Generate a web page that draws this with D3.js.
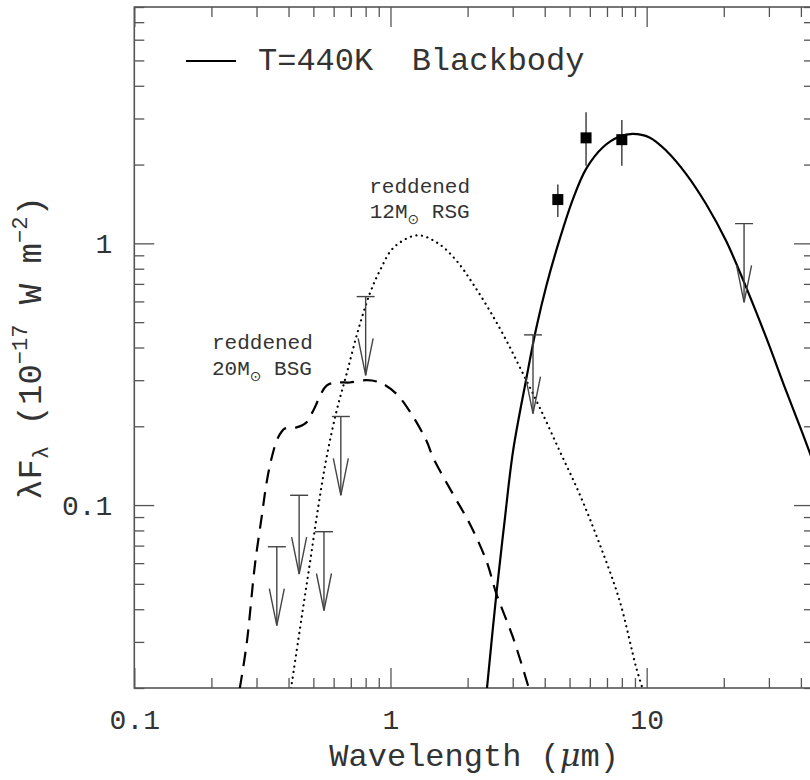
<!DOCTYPE html>
<html>
<head>
<meta charset="utf-8">
<script src="https://cdn.jsdelivr.net/npm/d3@7"></script>
<style>
  body { margin: 0; background: #fff; }
  text { font-family: "Liberation Mono", "DejaVu Sans Mono", monospace; fill: #333; }
</style>
</head>
<body>
<div id="chart"></div>
<script>
// wavelength (micron) / lambda F_lambda (1e-17 W m^-2)
const blackbody = [
  [2.38, 0.0199], [2.59, 0.0457], [2.79, 0.0871], [3.01, 0.161], [3.39, 0.304],
  [3.71, 0.476], [4.06, 0.689], [4.58, 1.04], [5.16, 1.48], [5.81, 1.93],
  [6.75, 2.33], [7.84, 2.56], [8.84, 2.62], [10.26, 2.54], [11.93, 2.26],
  [14.27, 1.84], [17.08, 1.41], [20.44, 1.02], [24.46, 0.679], [29.27, 0.437],
  [35.03, 0.273], [40.67, 0.187], [44.8, 0.145]
];
const bsg20 = [
  [0.258, 0.0199], [0.2745, 0.0295], [0.296, 0.0596], [0.314, 0.0897], [0.328, 0.121],
  [0.344, 0.152], [0.364, 0.181], [0.387, 0.196], [0.43, 0.198], [0.47, 0.207],
  [0.499, 0.229], [0.563, 0.286], [0.616, 0.294], [0.694, 0.294], [0.806, 0.300],
  [0.909, 0.294], [1.055, 0.266], [1.207, 0.223], [1.382, 0.176], [1.466, 0.152],
  [1.755, 0.110], [2.039, 0.0848], [2.368, 0.0612], [2.591, 0.0458], [3.008, 0.0312],
  [3.472, 0.0199]
];
const rsg12 = [
  [0.409, 0.0199], [0.45, 0.0372], [0.484, 0.0595], [0.522, 0.0979], [0.563, 0.152],
  [0.616, 0.229], [0.674, 0.317], [0.747, 0.464], [0.83, 0.642], [0.909, 0.786],
  [1.03, 0.965], [1.272, 1.073], [1.53, 1.002], [1.809, 0.859], [2.10, 0.700],
  [2.44, 0.553], [2.835, 0.425], [3.289, 0.318], [3.822, 0.236], [4.575, 0.161],
  [5.474, 0.110], [6.551, 0.071], [7.842, 0.0431], [9.108, 0.0239], [9.64, 0.0199]
];

// detections with error bars
const detLambda = [4.5, 5.8, 8.0];
const detFlux = [1.47, 2.53, 2.49];
const detLow = [1.26, 1.98, 1.98];
const detHigh = [1.68, 3.17, 2.96];

// upper limits (arrow drawn down to half the limit)
const limLambda = [0.36, 0.44, 0.55, 0.64, 0.80, 3.6, 24];
const limFlux = [0.0693, 0.109, 0.0791, 0.218, 0.626, 0.447, 1.19];

const xMajor = [0.1, 1, 10];
const xMinor = [0.2, 0.3, 0.4, 0.5, 0.6, 0.7, 0.8, 0.9, 2, 3, 4, 5, 6, 7, 8, 9, 20, 30, 40];
const yMajor = [0.1, 1];
const yMinor = [0.02, 0.03, 0.04, 0.05, 0.06, 0.07, 0.08, 0.09,
                0.2, 0.3, 0.4, 0.5, 0.6, 0.7, 0.8, 0.9, 2, 3, 4, 5, 6, 7, 8];

const W = 810, H = 780;
const margin = {left: 134.3, right: 814, top: 7, bottom: 688};

const x = d3.scaleLog().domain([0.1, 45]).range([margin.left, margin.right]);
const y = d3.scaleLog().domain([0.02, 8]).range([margin.bottom, margin.top]);

const svg = d3.select("#chart").append("svg")
  .attr("width", W)
  .attr("height", H);

svg.append("clipPath").attr("id", "plotclip")
  .append("rect")
  .attr("x", margin.left).attr("y", margin.top)
  .attr("width", margin.right - margin.left).attr("height", margin.bottom - margin.top);

const axisColor = "#555";
const fmt = d => d === 0.1 ? "0.1" : String(d);

// ticks on all four sides, pointing in
function drawAxis(axis, transform, labels) {
  const g = svg.append("g").attr("transform", transform).call(axis);
  g.select(".domain").remove();
  g.selectAll(".tick line").attr("stroke", axisColor).attr("stroke-width", 1.3);
  if (!labels) g.selectAll(".tick text").remove();
  return g;
}

let gx = drawAxis(d3.axisBottom(x).tickValues(xMajor).tickSize(-20).tickPadding(21).tickFormat(fmt),
  `translate(0,${margin.bottom})`, true);
gx.attr("font-size", 28).attr("font-family", null);
gx.selectAll(".tick text").attr("fill", "#333");
drawAxis(d3.axisBottom(x).tickValues(xMinor).tickSize(-10), `translate(0,${margin.bottom})`, false);
drawAxis(d3.axisTop(x).tickValues(xMajor).tickSize(-20), `translate(0,${margin.top})`, false);
drawAxis(d3.axisTop(x).tickValues(xMinor).tickSize(-10), `translate(0,${margin.top})`, false);

let gy = drawAxis(d3.axisLeft(y).tickValues(yMajor).tickSize(-20).tickPadding(22).tickFormat(fmt),
  `translate(${margin.left},0)`, true);
gy.attr("font-size", 28).attr("font-family", null);
gy.selectAll(".tick text").attr("fill", "#333");
drawAxis(d3.axisLeft(y).tickValues(yMinor).tickSize(-10), `translate(${margin.left},0)`, false);
drawAxis(d3.axisRight(y).tickValues(yMajor).tickSize(-20), `translate(${margin.right},0)`, false);
drawAxis(d3.axisRight(y).tickValues(yMinor).tickSize(-10), `translate(${margin.right},0)`, false);

// frame
svg.append("rect")
  .attr("x", margin.left).attr("y", margin.top)
  .attr("width", margin.right - margin.left).attr("height", margin.bottom - margin.top)
  .attr("fill", "none").attr("stroke", axisColor).attr("stroke-width", 1.6);

const line = d3.line()
  .x(d => x(d[0]))
  .y(d => y(d[1]))
  .curve(d3.curveCatmullRom.alpha(0.5));

const plot = svg.append("g").attr("clip-path", "url(#plotclip)");

plot.append("path").datum(blackbody)
  .attr("d", line).attr("fill", "none")
  .attr("stroke", "#000").attr("stroke-width", 2.2);

plot.append("path").datum(bsg20)
  .attr("d", line).attr("fill", "none")
  .attr("stroke", "#000").attr("stroke-width", 2.2)
  .attr("stroke-dasharray", "14 9");

plot.append("path").datum(rsg12)
  .attr("d", line).attr("fill", "none")
  .attr("stroke", "#000").attr("stroke-width", 2.2)
  .attr("stroke-linecap", "round")
  .attr("stroke-dasharray", "0.1 5.5");

// upper limits
const limColor = "#444";
const lims = plot.selectAll(".lim").data(limLambda).enter().append("g");
lims.append("line")
  .attr("x1", d => x(d)).attr("x2", d => x(d))
  .attr("y1", (d, i) => y(limFlux[i])).attr("y2", (d, i) => y(limFlux[i] / 2))
  .attr("stroke", limColor).attr("stroke-width", 1.4);
lims.append("line")
  .attr("x1", d => x(d) - 9).attr("x2", d => x(d) + 9)
  .attr("y1", (d, i) => y(limFlux[i])).attr("y2", (d, i) => y(limFlux[i]))
  .attr("stroke", limColor).attr("stroke-width", 1.4);
lims.append("path")
  .attr("d", (d, i) => {
    const cx = x(d), ty = y(limFlux[i] / 2);
    return `M${cx - 7.5},${ty - 37}L${cx},${ty}L${cx + 7.5},${ty - 37}`;
  })
  .attr("fill", "none").attr("stroke", limColor).attr("stroke-width", 1.4);

// detections
plot.selectAll(".err").data(detLambda).enter().append("line")
  .attr("x1", d => x(d)).attr("x2", d => x(d))
  .attr("y1", (d, i) => y(detLow[i])).attr("y2", (d, i) => y(detHigh[i]))
  .attr("stroke", limColor).attr("stroke-width", 1.5);
plot.selectAll(".pt").data(detLambda).enter().append("rect")
  .attr("x", d => x(d) - 5.5)
  .attr("y", (d, i) => y(detFlux[i]) - 5.5)
  .attr("width", 11).attr("height", 11)
  .attr("fill", "#000");

// legend
svg.append("line")
  .attr("x1", 186).attr("x2", 236).attr("y1", 61).attr("y2", 61)
  .attr("stroke", "#000").attr("stroke-width", 2.2);
svg.append("text")
  .attr("x", 258).attr("y", 70)
  .attr("font-size", 32)
  .attr("xml:space", "preserve")
  .text("T=440K  Blackbody");

// model labels
function modelLabel(lx, ly1, ly2, anchor, mass, kind) {
  svg.append("text")
    .attr("x", x(lx)).attr("y", y(ly1))
    .attr("text-anchor", anchor).attr("font-size", 21)
    .text("reddened");
  const t = svg.append("text")
    .attr("x", x(lx)).attr("y", y(ly2))
    .attr("text-anchor", anchor).attr("font-size", 21);
  t.append("tspan").text(mass + "M");
  t.append("tspan").attr("font-size", 14).attr("dy", 6).attr("font-family", "DejaVu Sans").text("\u2299");
  t.append("tspan").attr("dy", -6).text(" " + kind);
}
modelLabel(1.30, 1.56, 1.25, "middle", "12", "RSG");
modelLabel(0.201, 0.396, 0.315, "start", "20", "BSG");

// axis titles
const xt = svg.append("text")
  .attr("x", (margin.left + margin.right) / 2).attr("y", 766)
  .attr("text-anchor", "middle").attr("font-size", 32);
xt.append("tspan").text("Wavelength (");
xt.append("tspan").attr("font-style", "italic").attr("font-family", "DejaVu Serif").text("\u03bc");
xt.append("tspan").text("m)");

const yt = svg.append("text")
  .attr("transform", "translate(41,348) rotate(-90)")
  .attr("text-anchor", "middle").attr("font-size", 34);
yt.append("tspan").text("\u03bbF");
yt.append("tspan").attr("font-size", 22).attr("dy", 7).text("\u03bb");
yt.append("tspan").attr("dy", -7).text(" (10");
yt.append("tspan").attr("font-size", 22).attr("dy", -14).text("\u221217");
yt.append("tspan").attr("dy", 14).text(" W m");
yt.append("tspan").attr("font-size", 22).attr("dy", -14).text("\u22122");
yt.append("tspan").attr("dy", 14).text(")");
</script>
</body>
</html>
